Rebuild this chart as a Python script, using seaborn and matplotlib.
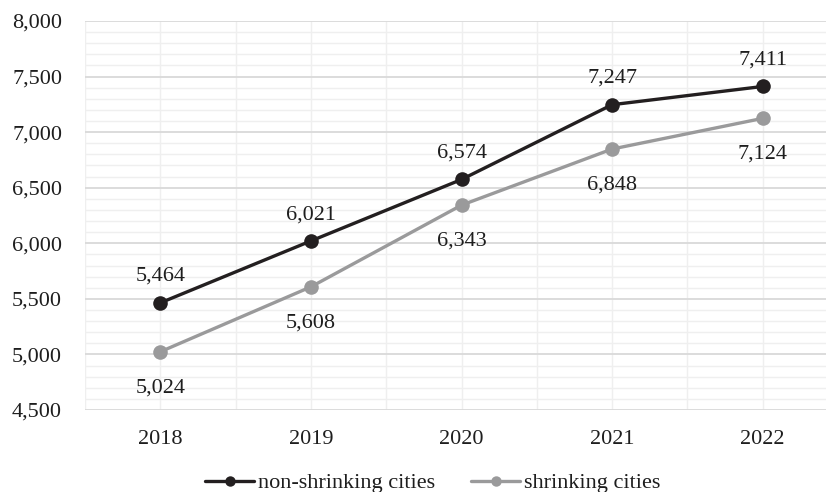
import matplotlib
matplotlib.use("Agg")
import matplotlib.pyplot as plt
from matplotlib.ticker import MultipleLocator, FuncFormatter
import numpy as np
import pandas as pd
import seaborn as sns

years = ["2018", "2019", "2020", "2021", "2022"]
non_shrinking = [5464, 6021, 6574, 7247, 7411]
shrinking = [5024, 5608, 6343, 6848, 7124]
series_names = ["non-shrinking cities", "shrinking cities"]
colors = ["#231f20", "#9a9a9b"]

df = pd.DataFrame({
    "pos": list(range(len(years))) * 2,
    "value": non_shrinking + shrinking,
    "series": [series_names[0]] * len(years) + [series_names[1]] * len(years),
})

sns.set_theme(style="white")
plt.rcParams["font.family"] = ["Liberation Serif", "DejaVu Serif"]

W, H = 826, 492
FS = 16
TXT = "#1e1e1e"
fig = plt.figure(figsize=(W / 100, H / 100), dpi=100)
left, right, top, bottom = 85, 838, 21, 410
ax = fig.add_axes([left / W, 1 - bottom / H, (right - left) / W, (bottom - top) / H])

sns.lineplot(data=df, x="pos", y="value", hue="series", palette=colors,
             marker="o", markersize=10.5, markeredgewidth=0, linewidth=2.4,
             ax=ax, legend=False, zorder=3)

ax.set_xlim(-0.5, len(years) - 0.5)
ax.set_ylim(4500, 8000)
ax.set_xticks(range(len(years)))
ax.set_xticklabels(years)
ax.xaxis.set_minor_locator(MultipleLocator(0.5))
ax.yaxis.set_major_locator(MultipleLocator(500))
ax.yaxis.set_minor_locator(MultipleLocator(100))
ax.yaxis.set_major_formatter(FuncFormatter(lambda v, p: f"{int(v):,}"))

ax.grid(which="major", axis="y", color="#d9d9d9", linewidth=1.3, zorder=1)
ax.grid(which="minor", axis="y", color="#efefef", linewidth=1.0, zorder=0)
ax.grid(which="minor", axis="x", color="#efefef", linewidth=1.0, zorder=0)
ax.grid(which="major", axis="x", color="#efefef", linewidth=1.0, zorder=0)
for s in ax.spines.values():
    s.set_visible(False)
ax.tick_params(axis="both", which="both", length=0)
ax.tick_params(axis="x", labelsize=FS, pad=14.5, colors=TXT)
ax.tick_params(axis="y", labelsize=FS, pad=16.5, colors=TXT)
ax.set_xlabel("")
ax.set_ylabel("")

for i, v in enumerate(non_shrinking):
    ax.annotate(f"{v:,}", (i, v), xytext=(0, 19), textcoords="offset points",
                ha="center", va="center", fontsize=FS, color=TXT)
for i, v in enumerate(shrinking):
    ax.annotate(f"{v:,}", (i, v), xytext=(0, -26), textcoords="offset points",
                ha="center", va="center", fontsize=FS, color=TXT)

handles = [plt.Line2D([], [], color=c, marker="o", markersize=7.5, linewidth=2.4,
                      markeredgewidth=0) for c in colors]
fig.legend(handles, series_names, loc="center", bbox_to_anchor=(433 / W, 1 - 483 / H),
           ncol=2, frameon=False, fontsize=FS, handlelength=2.2, handletextpad=0.2,
           columnspacing=1.6, labelcolor=TXT, borderpad=0)

fig.savefig("out.png", dpi=100)
